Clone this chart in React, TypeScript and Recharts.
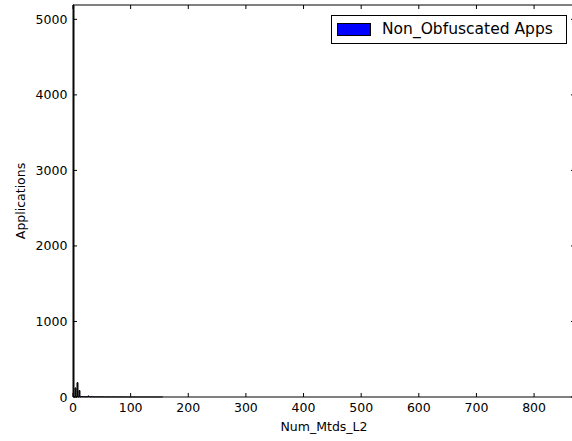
import React from "react"
import { ComposedChart, Area, XAxis, YAxis, Legend } from "recharts"

// histogram of Num_Mtds_L2 for the non-obfuscated apps
const BIN_WIDTH = 1.73
const X_MAX = 871
const Y_MAX = 5190
const X_TICKS = [0, 100, 200, 300, 400, 500, 600, 700, 800]
const Y_TICKS = [0, 1000, 2000, 3000, 4000, 5000]
const SERIES_NAME = "Non_Obfuscated Apps"

// counts per bin, starting at 0; everything past the last bin is empty
const binCounts = [
  5190, 0, 120, 0, 190, 0, 85, 0, 6, 4, 3, 5, 2, 4, 3, 14, 3, 2, 4, 2,
  3, 1, 2, 3, 1, 2, 2, 1, 3, 1, 2, 1, 1, 2, 1, 1, 2, 1, 1, 1,
  2, 1, 1, 0, 1, 1, 1, 0, 2, 1, 0, 1, 1, 0, 1, 1, 0, 1, 0, 1,
  1, 0, 1, 0, 1, 0, 1, 1, 0, 1, 0, 0, 1, 0, 1, 0, 0, 1, 0, 1,
  0, 0, 1, 0, 0, 1, 0, 0, 1, 1,
]

const BLUE = "#0000ff"
const FONT = "DejaVu Sans, sans-serif"
const TICK_LEN = 4

const histData = [
  ...binCounts.map((n, i) => ({ x: i * BIN_WIDTH, n })),
  { x: binCounts.length * BIN_WIDTH, n: 0 },
]

function BottomTick(props: any) {
  const { x, y, payload } = props
  return (
    <g>
      <line x1={x} x2={x} y1={y} y2={y - TICK_LEN} stroke="#000" />
      <text x={x} y={y + 14.7} textAnchor="middle" fontSize={12.5} fontFamily={FONT} fill="#000">
        {payload.value}
      </text>
    </g>
  )
}

function TopTick(props: any) {
  const { x, y } = props
  return <line x1={x} x2={x} y1={y} y2={y + TICK_LEN} stroke="#000" />
}

function LeftTick(props: any) {
  const { x, y, payload } = props
  return (
    <g>
      <line x1={x} x2={x + TICK_LEN} y1={y} y2={y} stroke="#000" />
      <text x={x - 5.6} y={y + 4.5} textAnchor="end" fontSize={12.5} fontFamily={FONT} fill="#000">
        {payload.value}
      </text>
    </g>
  )
}

function RightTick(props: any) {
  const { x, y } = props
  return <line x1={x} x2={x - TICK_LEN} y1={y} y2={y} stroke="#000" />
}

function LegendBox(props: any) {
  const item = props.payload && props.payload.find((p: any) => p.type !== "none")
  return (
    <svg width={237} height={30} style={{ display: "block" }}>
      <rect x={0.5} y={0.5} width={235} height={28} fill="#fff" stroke="#000" />
      <rect x={6.5} y={8.5} width={33} height={12} fill={BLUE} stroke="#000" />
      <text x={51} y={19} fontSize={15.5} fontFamily={FONT} fill="#000">
        {item ? item.value : SERIES_NAME}
      </text>
    </svg>
  )
}

export default function App() {
  return (
    <div
      style={{
        position: "fixed",
        left: 0,
        top: 0,
        width: 572,
        height: 441,
        overflow: "hidden",
        background: "#fff",
      }}
    >
      <ComposedChart
        width={600}
        height={441}
        data={histData}
        margin={{ top: 4, right: 24, bottom: 0, left: 0 }}
      >
        <XAxis
          dataKey="x"
          type="number"
          domain={[0, X_MAX]}
          ticks={X_TICKS}
          interval={0}
          height={44}
          tickSize={0}
          tickMargin={0}
          tick={<BottomTick />}
          axisLine={{ stroke: "#000" }}
          label={() => (
            <text x={324} y={431} textAnchor="middle" fontSize={12.5} fontFamily={FONT} fill="#000">
              Num_Mtds_L2
            </text>
          )}
        />
        <XAxis
          xAxisId="top"
          dataKey="x"
          orientation="top"
          type="number"
          domain={[0, X_MAX]}
          ticks={X_TICKS}
          interval={0}
          height={1}
          tickSize={0}
          tickMargin={0}
          tick={<TopTick />}
          axisLine={{ stroke: "#000" }}
        />
        <YAxis
          type="number"
          domain={[0, Y_MAX]}
          ticks={Y_TICKS}
          interval={0}
          width={73}
          tickSize={0}
          tickMargin={0}
          tick={<LeftTick />}
          axisLine={{ stroke: "#000" }}
          label={() => (
            <text
              x={20}
              y={201}
              transform="rotate(-90 20 201)"
              textAnchor="middle"
              dominantBaseline="central"
              fontSize={12.5}
              fontFamily={FONT}
              fill="#000"
            >
              Applications
            </text>
          )}
        />
        <YAxis
          yAxisId="right"
          orientation="right"
          type="number"
          domain={[0, Y_MAX]}
          ticks={Y_TICKS}
          interval={0}
          width={1}
          tickSize={0}
          tickMargin={0}
          tick={<RightTick />}
          axisLine={{ stroke: "#000" }}
        />
        {/* invisible copy so the top and right frame axes have a series */}
        <Area
          xAxisId="top"
          yAxisId="right"
          dataKey="n"
          type="stepAfter"
          fill="none"
          stroke="none"
          legendType="none"
          dot={false}
          activeDot={false}
          isAnimationActive={false}
        />
        <Area
          dataKey="n"
          name={SERIES_NAME}
          type="stepAfter"
          fill={BLUE}
          fillOpacity={1}
          stroke="#000"
          strokeWidth={1}
          dot={false}
          activeDot={false}
          isAnimationActive={false}
        />
        <Legend
          layout="horizontal"
          verticalAlign="middle"
          align="center"
          content={<LegendBox />}
          wrapperStyle={{ left: 331, top: 15, width: 237, height: 30 }}
        />
      </ComposedChart>
    </div>
  )
}
